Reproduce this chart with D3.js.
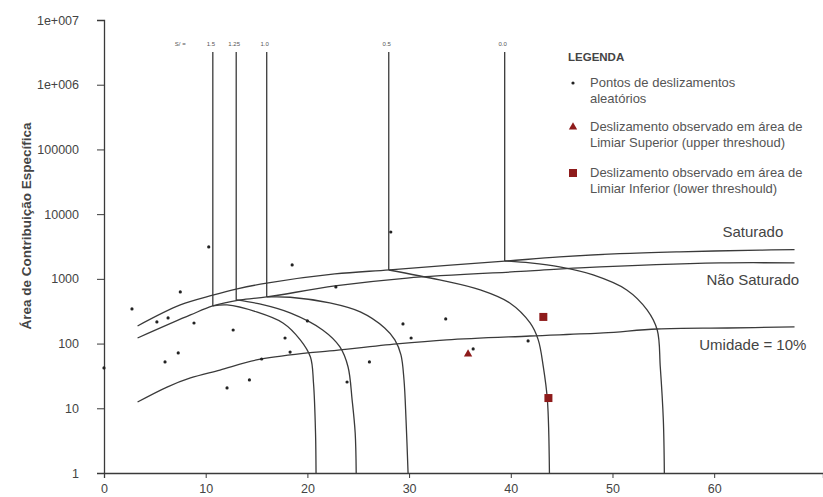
<!DOCTYPE html>
<html>
<head>
<meta charset="utf-8">
<script src="https://cdn.jsdelivr.net/npm/d3@7"></script>
<style>
  body { margin: 0; background: #fff; }
  svg { font-family: "Liberation Sans", Arial, sans-serif; }
</style>
</head>
<body>
<svg width="823" height="497"></svg>
<script>
// tick values / labels
const xTicks = [0, 10, 20, 30, 40, 50, 60];
const yTicks = [1, 10, 100, 1000, 10000, 100000, 1e6, 1e7];
const yTickLabels = ["1", "10", "100", "1000", "10000", "100000", "1e+006", "1e+007"];

// moisture curves [slope, area]
const saturado = [[3.3,187],[7.5,395],[10.7,560],[13.1,700],[16,860],[22.7,1190],[28.1,1380],[39.4,1880],[44.8,2180],[50.7,2450],[56.6,2620],[64.5,2780],[67.9,2820]];
const naoSaturado = [[3.3,122],[8.5,277],[10.7,381],[13.4,472],[16,525],[22.7,777],[29.8,1030],[41.9,1325],[46.8,1475],[60.6,1760],[67.9,1760]];
const umidade = [[3.3,12.5],[6.2,21.3],[8.5,29.4],[11.4,39],[15,55.8],[20,71.6],[22.2,76.9],[28.8,98.6],[33.7,114],[41.9,131],[49.1,146],[54.4,168],[61.3,174],[67.9,181]];

// threshold lines
const thresholdLabels = ["1.5", "1.25", "1.0", "0.5", "0.0"];
const thresholdX = [10.7, 13.0, 16.0, 28.0, 39.4];
const thresholdTop = 3.2e6;
const thresholdCurves = [
  [[10.7,381],[12.1,395],[15.0,308],[17.6,208],[19.3,114],[20.3,62],[20.6,24.6],[20.8,4.15],[20.85,1]],
  [[13.0,472],[15.3,409],[18.3,297],[21.5,162],[23.2,88.6],[24.0,43.5],[24.4,13.4],[24.7,4.15],[24.8,1]],
  [[16.0,525],[18.3,520],[22.2,424],[25.2,308],[27.6,174],[28.6,114],[29.2,66.7],[29.5,27.4],[29.7,6.6],[29.9,1]],
  [[28.0,1370],[33.0,962],[37.0,674],[39.9,424],[41.9,208],[42.7,114],[43.2,43.5],[43.6,13.4],[43.8,1]],
  [[39.4,1890],[41.9,1760],[44.8,1528],[48.1,1148],[51.4,674],[53.4,331],[54.4,162],[54.7,43.5],[55.0,6.6],[55.1,1]]
];

// landslide points
const randomPoints = [[0,42],[2.75,343],[7.5,628],[5.2,216],[6.3,249],[8.85,208],[10.3,3110],[18.5,1640],[12.7,162],[20.0,224],[17.8,122],[18.3,74],[15.5,57.8],[7.3,71.6],[6.0,52],[14.3,27.4],[12.1,20.6],[28.2,5300],[22.8,750],[29.4,201],[33.6,240],[30.2,122],[36.3,82.6],[26.1,52],[23.9,25.5],[41.7,110]];
const upperObs = [[35.8,69]];
const lowerObs = [[43.2,258],[43.7,14.4]];

const legendItems = [
  ["Pontos de deslizamentos", "aleatórios"],
  ["Deslizamento observado em área de", "Limiar Superior (upper threshoud)"],
  ["Deslizamento observado em área de", "Limiar Inferior (lower threshould)"]
];

const svg = d3.select("svg");
const lineColor = "#3a3a3a";
const textColor = "#444";
const markRed = "#8e1b1b";

const x = d3.scaleLinear().domain([0, 70.7]).range([104, 823]);
const y = d3.scaleLog().domain([1, 1e7]).range([473, 20]);

// axes
const yAxis = d3.axisLeft(y)
  .tickValues(yTicks)
  .tickFormat((d, i) => yTickLabels[i])
  .tickSize(7)
  .tickPadding(18);
const gy = svg.append("g").attr("transform", "translate(104,0)").call(yAxis);
gy.select(".domain").attr("stroke", lineColor).attr("stroke-width", 1.3);
gy.selectAll(".tick line").attr("stroke", lineColor);
gy.selectAll(".tick text").attr("fill", textColor).attr("font-size", 12.5);

const xAxis = d3.axisBottom(x)
  .tickValues(xTicks)
  .tickSize(5)
  .tickPadding(6);
const gx = svg.append("g").attr("transform", "translate(0,473)").call(xAxis);
gx.select(".domain").attr("stroke", lineColor).attr("stroke-width", 1.3);
gx.selectAll(".tick line").attr("stroke", lineColor);
gx.selectAll(".tick text").attr("fill", textColor).attr("font-size", 12.5);

svg.append("text")
  .attr("transform", "translate(31,226) rotate(-90)")
  .attr("text-anchor", "middle")
  .attr("font-size", 13.5)
  .attr("font-weight", "bold")
  .attr("fill", textColor)
  .text("Área de Contribuição Específica");

const line = d3.line()
  .x(d => x(d[0]))
  .y(d => y(d[1]))
  .curve(d3.curveCatmullRom.alpha(0.5));

// moisture curves
[saturado, naoSaturado, umidade].forEach(c => {
  svg.append("path")
    .attr("d", line(c))
    .attr("fill", "none")
    .attr("stroke", lineColor)
    .attr("stroke-width", 1.3);
});

// curve labels
const curveLabels = [["Saturado", saturado, -13], ["Não Saturado", naoSaturado, 22], ["Umidade = 10%", umidade, 23]];
curveLabels.forEach(l => {
  const last = l[1][l[1].length - 1];
  svg.append("text")
    .attr("x", x(63.8))
    .attr("y", y(last[1]) + l[2])
    .attr("text-anchor", "middle")
    .attr("font-size", 15)
    .attr("fill", textColor)
    .text(l[0]);
});

// threshold verticals + curves
thresholdCurves.forEach((c, i) => {
  svg.append("line")
    .attr("x1", x(thresholdX[i])).attr("x2", x(thresholdX[i]))
    .attr("y1", y(thresholdTop)).attr("y2", y(c[0][1]))
    .attr("stroke", lineColor)
    .attr("stroke-width", 1.3);
  svg.append("path")
    .attr("d", line(c))
    .attr("fill", "none")
    .attr("stroke", lineColor)
    .attr("stroke-width", 1.3);
  svg.append("text")
    .attr("x", x(thresholdX[i]) - 2)
    .attr("y", y(thresholdTop) - 6)
    .attr("text-anchor", "middle")
    .attr("font-size", 6)
    .attr("fill", "#555")
    .text(thresholdLabels[i]);
});
svg.append("text")
  .attr("x", x(thresholdX[0]) - 38)
  .attr("y", y(thresholdTop) - 6)
  .attr("font-size", 6)
  .attr("fill", "#555")
  .text("S/ =");

// points
svg.append("g").selectAll("circle")
  .data(randomPoints)
  .enter()
  .append("circle")
  .attr("cx", d => x(d[0]))
  .attr("cy", d => y(d[1]))
  .attr("r", 1.6)
  .attr("fill", "#222");

const tri = d3.symbol().type(d3.symbolTriangle).size(30);
svg.append("g").selectAll("path")
  .data(upperObs)
  .enter()
  .append("path")
  .attr("transform", d => "translate(" + x(d[0]) + "," + y(d[1]) + ")")
  .attr("d", tri)
  .attr("fill", markRed);

svg.append("g").selectAll("rect")
  .data(lowerObs)
  .enter()
  .append("rect")
  .attr("x", d => x(d[0]) - 4)
  .attr("y", d => y(d[1]) - 4)
  .attr("width", 8)
  .attr("height", 8)
  .attr("fill", markRed);

// legend
const lg = svg.append("g").attr("transform", "translate(568,0)");
lg.append("text")
  .attr("x", 0).attr("y", 61)
  .attr("font-size", 11.5)
  .attr("font-weight", "bold")
  .attr("fill", textColor)
  .text("LEGENDA");
const rowY = [87, 131, 177];
legendItems.forEach((item, i) => {
  item.forEach((t, j) => {
    lg.append("text")
      .attr("x", 22).attr("y", rowY[i] + j * 16)
      .attr("font-size", 13)
      .attr("fill", "#555")
      .text(t);
  });
});
lg.append("circle").attr("cx", 5).attr("cy", 83).attr("r", 1.6).attr("fill", "#222");
lg.append("path").attr("transform", "translate(5,127)").attr("d", tri).attr("fill", markRed);
lg.append("rect").attr("x", 1).attr("y", 169).attr("width", 8).attr("height", 8).attr("fill", markRed);
</script>
</body>
</html>
